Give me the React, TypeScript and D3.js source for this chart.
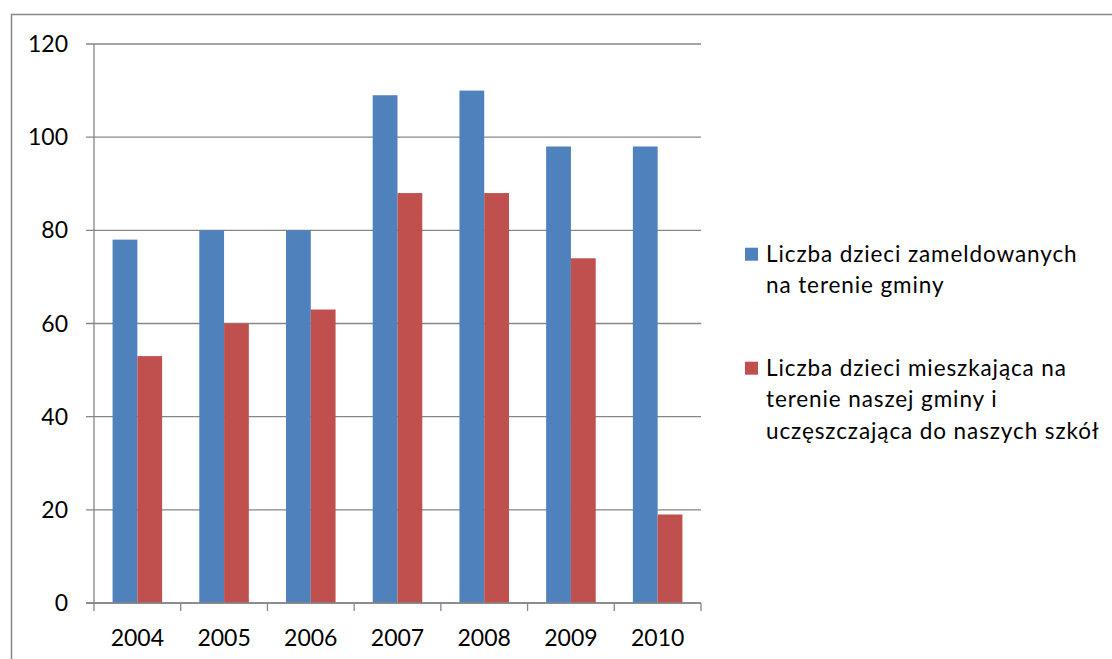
import React from "react";
import * as d3 from "d3";

const years = ["2004", "2005", "2006", "2007", "2008", "2009", "2010"];
const registered = [78, 80, 80, 109, 110, 98, 98];
const attending = [53, 60, 63, 88, 88, 74, 19];
const yTicks = [0, 20, 40, 60, 80, 100, 120];
const seriesNames = [
  ["Liczba dzieci zameldowanych", "na terenie gminy"],
  ["Liczba dzieci mieszkająca na", "terenie naszej gminy i", "uczęszczająca do naszych szkół"],
];
const colors = ["#4F81BD", "#C0504D"];

export default function App() {
  const W = 1112, H = 659;
  const left = 94, right = 701, top = 44, bottom = 603;
  const x = d3.scaleBand<string>().domain(years).range([left, right]);
  const y = d3.scaleLinear().domain([0, 120]).range([bottom, top]);
  const bw = x.bandwidth();
  const barW = bw / 3.5;
  const gray = "#868686";
  const font = "Lato, 'Open Sans', sans-serif";
  const series = [registered, attending];
  const legendY = [261.7, 375.7];
  const lineGap = 31.5;
  return (
    <svg width={W} height={H} style={{ position: "absolute", left: 0, top: 0 }} fontFamily={font}>
      <rect x={0} y={0} width={W} height={H} fill="#fff" />
      <rect x={11.5} y={14.5} width={W + 20} height={H + 20} fill="none" stroke={gray} strokeWidth={1.5} />
      {yTicks.map((t) => (
        <g key={t}>
          <line x1={left - 8} x2={right} y1={y(t)} y2={y(t)} stroke={gray} strokeWidth={1.3} />
          <text x={68} y={y(t) + 8} textAnchor="end" fontSize={23} fill="#000">{t}</text>
        </g>
      ))}
      {series.map((vals, si) =>
        vals.map((v, i) => {
          const cx = (x(years[i]) as number) + bw / 2;
          const x0 = cx - barW + si * barW;
          return (
            <rect key={si + "-" + i} x={x0} y={y(v)} width={barW} height={y(0) - y(v)} fill={colors[si]} />
          );
        })
      )}
      <line x1={left} x2={left} y1={top} y2={bottom} stroke={gray} strokeWidth={1.3} />
      <line x1={left - 8} x2={right} y1={bottom} y2={bottom} stroke={gray} strokeWidth={1.3} />
      {years.map((yr) => (
        <line key={"t" + yr} x1={x(yr) as number} x2={x(yr) as number} y1={bottom} y2={bottom + 8} stroke={gray} strokeWidth={1.3} />
      ))}
      <line x1={right} x2={right} y1={bottom} y2={bottom + 8} stroke={gray} strokeWidth={1.3} />
      {years.map((yr) => (
        <text key={"l" + yr} x={(x(yr) as number) + bw / 2} y={646} textAnchor="middle" fontSize={23} fill="#000">{yr}</text>
      ))}
      {seriesNames.map((lines, si) => (
        <g key={"lg" + si}>
          <rect x={745} y={legendY[si] - 14} width={13} height={13} fill={colors[si]} />
          {lines.map((ln, li) => (
            <text key={li} x={766} y={legendY[si] + li * lineGap} fontSize={22.5} letterSpacing={0.9} fill="#000">{ln}</text>
          ))}
        </g>
      ))}
    </svg>
  );
}
